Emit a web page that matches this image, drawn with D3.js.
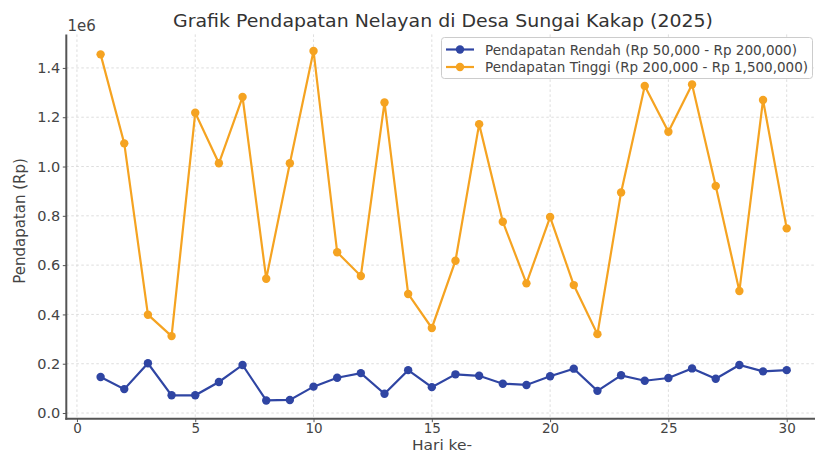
<!DOCTYPE html>
<html><head><meta charset="utf-8">
<script src="https://cdn.jsdelivr.net/npm/d3@7"></script>
<style>body{margin:0;background:#fff;}svg{display:block;font-family:"DejaVu Sans",sans-serif;}</style>
</head><body>
<svg id="c" width="815" height="453"></svg>
<script>
const days = d3.range(1, 31);
const rendah = [0.146,0.097,0.202,0.072,0.072,0.126,0.195,0.051,0.053,0.107,
  0.143,0.162,0.078,0.174,0.105,0.157,0.151,0.119,0.114,0.149,
  0.180,0.090,0.153,0.131,0.142,0.181,0.139,0.195,0.169,0.174].map(v=>v*1e6);
const tinggi = [1.455,1.094,0.399,0.312,1.218,1.013,1.282,0.545,1.013,1.469,
  0.652,0.556,1.260,0.483,0.345,0.618,1.172,0.776,0.526,0.795,
  0.519,0.320,0.895,1.327,1.141,1.333,0.921,0.495,1.270,0.749].map(v=>v*1e6);
const xTicks = [0,5,10,15,20,25,30];
const yTicks = [0,0.2e6,0.4e6,0.6e6,0.8e6,1.0e6,1.2e6,1.4e6];
const seriesNames = ["Pendapatan Rendah (Rp 50,000 - Rp 200,000)","Pendapatan Tinggi (Rp 200,000 - Rp 1,500,000)"];
const colors = ["#2f45a3","#f5a321"];
const title = "Grafik Pendapatan Nelayan di Desa Sungai Kakap (2025)";

const svg = d3.select("#c");
const L=66.3, R=821, T=34.4, B=418.7;
const x = d3.scaleLinear().domain([-0.45,31.45]).range([L,R]);
const y = d3.scaleLinear().domain([-23000,1536000]).range([B,T]);

// grid
const g = svg.append("g");
g.selectAll(".gx").data(xTicks).join("line").attr("x1",d=>x(d)).attr("x2",d=>x(d)).attr("y1",T).attr("y2",B)
 .attr("stroke","#d4d4d4").attr("stroke-width",0.8).attr("stroke-dasharray","2.5,2.5");
g.selectAll(".gy").data(yTicks).join("line").attr("y1",d=>y(d)).attr("y2",d=>y(d)).attr("x1",L).attr("x2",R)
 .attr("stroke","#d4d4d4").attr("stroke-width",0.8).attr("stroke-dasharray","2.5,2.5");

// axes
const xa = svg.append("g").attr("transform",`translate(0,${B})`)
  .call(d3.axisBottom(x).tickValues(xTicks).tickFormat(d3.format("d")).tickSize(3.5).tickPadding(1));
const ya = svg.append("g").attr("transform",`translate(${L},0)`)
  .call(d3.axisLeft(y).tickValues(yTicks).tickFormat(d=>(d/1e6).toFixed(1)).tickSize(3.5).tickPadding(2.5));
[xa,ya].forEach(a=>{
  a.select(".domain").remove();
  a.selectAll("line").attr("stroke","#555").attr("stroke-width",1);
  a.selectAll("text").attr("fill","#444").style("font-family","DejaVu Sans");
});
xa.selectAll("text").style("font-size","13.5px");
ya.selectAll("text").style("font-size","14.5px");
svg.append("line").attr("x1",L).attr("x2",L).attr("y1",T).attr("y2",B+1).attr("stroke","#555").attr("stroke-width",2);
svg.append("line").attr("x1",L-1).attr("x2",R).attr("y1",B).attr("y2",B).attr("stroke","#555").attr("stroke-width",2);

// lines
const series = [rendah, tinggi];
const line = d3.line().x((d,i)=>x(days[i])).y(d=>y(d));
series.forEach((s,k)=>{
  svg.append("path").datum(s).attr("d",line).attr("fill","none").attr("stroke",colors[k]).attr("stroke-width",2.2);
  svg.append("g").selectAll("circle").data(s).join("circle").attr("cx",(d,i)=>x(days[i])).attr("cy",d=>y(d)).attr("r",4.2).attr("fill",colors[k]);
});

// texts
svg.append("text").attr("x",443).attr("y",26.5).attr("text-anchor","middle").attr("fill","#333")
  .attr("textLength",540).attr("lengthAdjust","spacingAndGlyphs").style("font-size","18px").text(title);
svg.append("text").attr("x",67.5).attr("y",30.5).attr("fill","#444").style("font-size","15px").text("1e6");
svg.append("text").attr("x",442).attr("y",449.5).attr("text-anchor","middle").attr("fill","#444")
  .attr("textLength",60).attr("lengthAdjust","spacingAndGlyphs").style("font-size","14px").text("Hari ke-");
svg.append("text").attr("transform","translate(25,221) rotate(-90)").attr("text-anchor","middle").attr("fill","#444").style("font-size","15px").text("Pendapatan (Rp)");

// legend
const lg = svg.append("g");
lg.append("rect").attr("x",441.5).attr("y",37.5).attr("width",371).attr("height",41).attr("rx",3)
  .attr("fill","#fff").attr("fill-opacity",0.85).attr("stroke","#ccc").attr("stroke-width",1);
const legendLen = [312, 323];
seriesNames.forEach((n,k)=>{
  const yy = 49.5 + k*17.5;
  lg.append("line").attr("x1",446).attr("x2",474).attr("y1",yy).attr("y2",yy).attr("stroke",colors[k]).attr("stroke-width",2.2);
  lg.append("circle").attr("cx",460).attr("cy",yy).attr("r",4.2).attr("fill",colors[k]);
  lg.append("text").attr("x",485).attr("y",yy+5).attr("fill","#444").style("font-size","13.8px")
    .attr("textLength",legendLen[k]).attr("lengthAdjust","spacingAndGlyphs").text(n);
});
</script>
</body></html>
